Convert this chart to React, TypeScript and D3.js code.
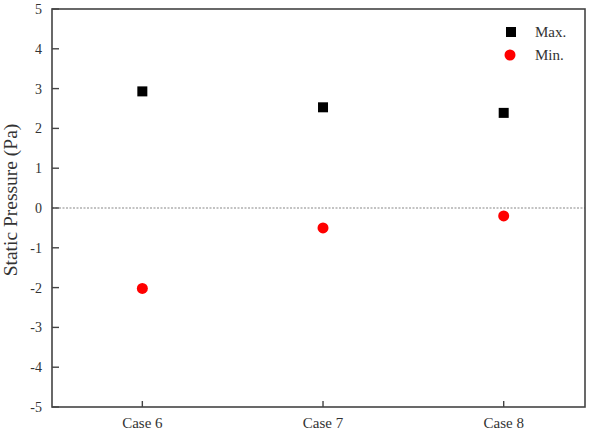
import React from "react";
import * as d3 from "d3";

const categories = ["Case 6", "Case 7", "Case 8"];
const maxValues = [2.93, 2.53, 2.39];
const minValues = [-2.02, -0.5, -0.2];
const yTicks = [-5, -4, -3, -2, -1, 0, 1, 2, 3, 4, 5];
const legendLabels = ["Max.", "Min."];

export default function App() {
  const W = 596, H = 435;
  const left = 52, right = 585, top = 9, bottom = 407;
  const x = d3.scaleLinear().domain([0.5, 3.45]).range([left, right]);
  const y = d3.scaleLinear().domain([-5, 5]).range([bottom, top]);
  const font = "'Liberation Serif', 'Times New Roman', serif";
  const axisColor = "#444";
  const textColor = "#333";
  return (
    <svg width={W} height={H} style={{ position: "absolute", left: 0, top: 0 }}>
      <rect x={0} y={0} width={W} height={H} fill="#fff" />
      {/* zero dashed line */}
      <line x1={left} x2={right} y1={y(0)} y2={y(0)} stroke="#888" strokeWidth={1.2} strokeDasharray="2,1.5" />
      {/* frame */}
      <rect x={left} y={top} width={right - left} height={bottom - top} fill="none" stroke={axisColor} strokeWidth={1.6} />
      {/* y ticks */}
      {yTicks.map((t) => (
        <g key={t}>
          <line x1={left} x2={left + 7} y1={y(t)} y2={y(t)} stroke={axisColor} strokeWidth={1.4} />
          <text x={left - 10} y={y(t)} dy="0.35em" textAnchor="end" fontFamily={font} fontSize={14} fill={textColor}>
            {t}
          </text>
        </g>
      ))}
      {/* x ticks */}
      {categories.map((c, i) => (
        <g key={c}>
          <line x1={x(i + 1)} x2={x(i + 1)} y1={bottom} y2={bottom - 6} stroke={axisColor} strokeWidth={1.4} />
          <text x={x(i + 1)} y={bottom + 21} textAnchor="middle" fontFamily={font} fontSize={15} fill={textColor}>
            {c}
          </text>
        </g>
      ))}
      {/* y label */}
      <text
        transform={`translate(17,200) rotate(-90)`}
        textAnchor="middle"
        fontFamily={font}
        fontSize={19.5}
        fill={textColor}
      >
        Static Pressure (Pa)
      </text>
      {/* data */}
      {maxValues.map((v, i) => (
        <rect key={"mx" + i} x={x(i + 1) - 5} y={y(v) - 5} width={10} height={10} fill="#000" />
      ))}
      {minValues.map((v, i) => (
        <circle key={"mn" + i} cx={x(i + 1)} cy={y(v)} r={5.5} fill="#ff0000" />
      ))}
      {/* legend */}
      <rect x={506} y={27} width={10} height={10} fill="#000" />
      <text x={535} y={32} dy="0.35em" fontFamily={font} fontSize={15} fill={textColor}>
        {legendLabels[0]}
      </text>
      <circle cx={510} cy={55} r={5.5} fill="#ff0000" />
      <text x={535} y={55} dy="0.35em" fontFamily={font} fontSize={15} fill={textColor}>
        {legendLabels[1]}
      </text>
    </svg>
  );
}
